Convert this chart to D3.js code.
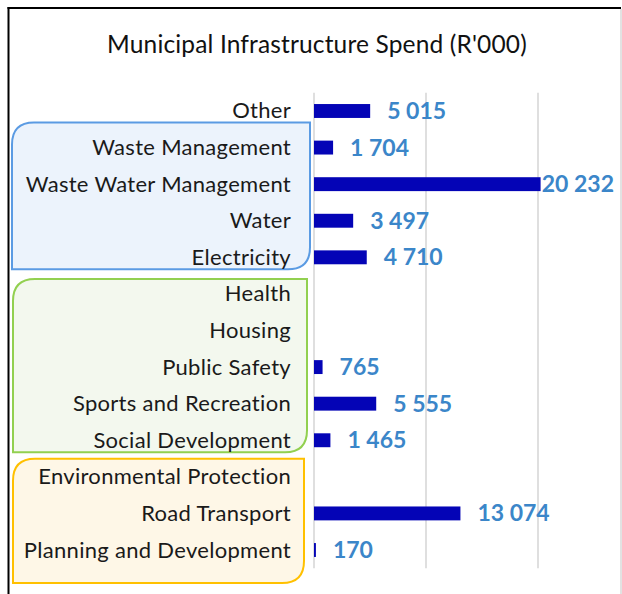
<!DOCTYPE html>
<html>
<head>
<meta charset="utf-8">
<script src="https://cdn.jsdelivr.net/npm/d3@7"></script>
<style>
  html, body { margin: 0; padding: 0; background: #fff; }
  svg { display: block; }
  text { font-family: Lato, "Open Sans", sans-serif; }
</style>
</head>
<body>
<svg id="chart" width="622" height="594"></svg>
<script>
// Spending per infrastructure category, in thousands of rand
const categories = [
  "Other", "Waste Management", "Waste Water Management", "Water", "Electricity",
  "Health", "Housing", "Public Safety", "Sports and Recreation", "Social Development",
  "Environmental Protection", "Road Transport", "Planning and Development"
];
const spend = [5015, 1704, 20232, 3497, 4710, null, null, 765, 5555, 1465, null, 13074, 170];
const gridTicks = [0, 10000, 20000];

// Category groupings shown as shaded panels behind the labels
const groupNames = ["services", "community", "planning"];
const groupFirst = ["Waste Management", "Health", "Environmental Protection"];
const groupLast = ["Electricity", "Social Development", "Planning and Development"];

const W = 622, H = 594;
const svg = d3.select("#chart");

const x = d3.scaleLinear().domain([0, 25000]).range([314, 594]);
const y = d3.scaleBand().domain(categories).range([92.7, 568.3])
  .paddingInner(0.62).paddingOuter(0.31);
const cy = c => y(c) + y.bandwidth() / 2;

const fmt = d3.formatLocale({ decimal: ".", thousands: " ", grouping: [3], currency: ["", ""] }).format(",d");

// Chart frame
svg.append("line").attr("x1", 8.5).attr("x2", 8.5).attr("y1", 7).attr("y2", H)
  .attr("stroke", "#000").attr("stroke-width", 2);
svg.append("line").attr("x1", 7.5).attr("x2", 621).attr("y1", 8).attr("y2", 8)
  .attr("stroke", "#000").attr("stroke-width", 2);
svg.append("line").attr("x1", 621).attr("x2", 621).attr("y1", 9).attr("y2", H)
  .attr("stroke", "#d9d9d9").attr("stroke-width", 1.5);

// Title
svg.append("text").attr("x", 317).attr("y", 53).attr("text-anchor", "middle")
  .attr("font-size", 24.5).attr("letter-spacing", 0.15).attr("fill", "#111")
  .text("Municipal Infrastructure Spend (R'000)");

// Group panels: rounded top-left and bottom-right corners
const panelStyle = {
  services:  { stroke: "#5B9BE3", fill: "#ECF3FC", x0: 12, x1: 310, top: -25, bottom: 12 },
  community: { stroke: "#92D050", fill: "#F3F8EE", x0: 13, x1: 307, top: -15, bottom: 12 },
  planning:  { stroke: "#FFC000", fill: "#FEF7E7", x0: 13, x1: 304, top: -18, bottom: 33 }
};
function diagRoundRect(x0, y0, x1, y1, r) {
  return `M${x0 + r},${y0} L${x1},${y0} L${x1},${y1 - r} Q${x1},${y1} ${x1 - r},${y1}` +
         ` L${x0},${y1} L${x0},${y0 + r} Q${x0},${y0} ${x0 + r},${y0} Z`;
}
groupNames.forEach((g, i) => {
  const s = panelStyle[g];
  const y0 = cy(groupFirst[i]) + s.top;
  const y1 = cy(groupLast[i]) + s.bottom;
  svg.append("path").attr("d", diagRoundRect(s.x0, y0, s.x1, y1, 22))
    .attr("fill", s.fill).attr("stroke", s.stroke).attr("stroke-width", 2);
});

// Vertical gridlines
svg.append("g").selectAll("line").data(gridTicks).join("line")
  .attr("x1", d => x(d)).attr("x2", d => x(d))
  .attr("y1", 92.7).attr("y2", 568.3)
  .attr("stroke", "#d4d4d4").attr("stroke-width", 1.5);

// Category labels
svg.append("g").selectAll("text").data(categories).join("text")
  .attr("x", 291).attr("y", d => cy(d) + 7.5)
  .attr("text-anchor", "end").attr("font-size", 22).attr("letter-spacing", 0.3)
  .attr("fill", "#1a1a1a")
  .text(d => d);

const rows = categories.map((c, i) => ({ c, v: spend[i] })).filter(d => d.v != null);

// Bars
svg.append("g").selectAll("rect").data(rows).join("rect")
  .attr("x", x(0)).attr("y", d => y(d.c))
  .attr("width", d => x(d.v) - x(0)).attr("height", y.bandwidth())
  .attr("fill", "#0404B6");

// Value labels, kept inside the plot's right edge
const labelLimit = 614;
svg.append("g").selectAll("text").data(rows).join("text")
  .attr("y", d => cy(d.c) + 8)
  .attr("font-size", 23).attr("font-weight", "bold").attr("fill", "#3B86C9")
  .text(d => fmt(d.v))
  .each(function (d) {
    const w = this.getComputedTextLength();
    const pos = Math.min(x(d.v) + 17, labelLimit - w);
    d3.select(this).attr("x", Math.max(pos, x(d.v) + 1));
  });
</script>
</body>
</html>
